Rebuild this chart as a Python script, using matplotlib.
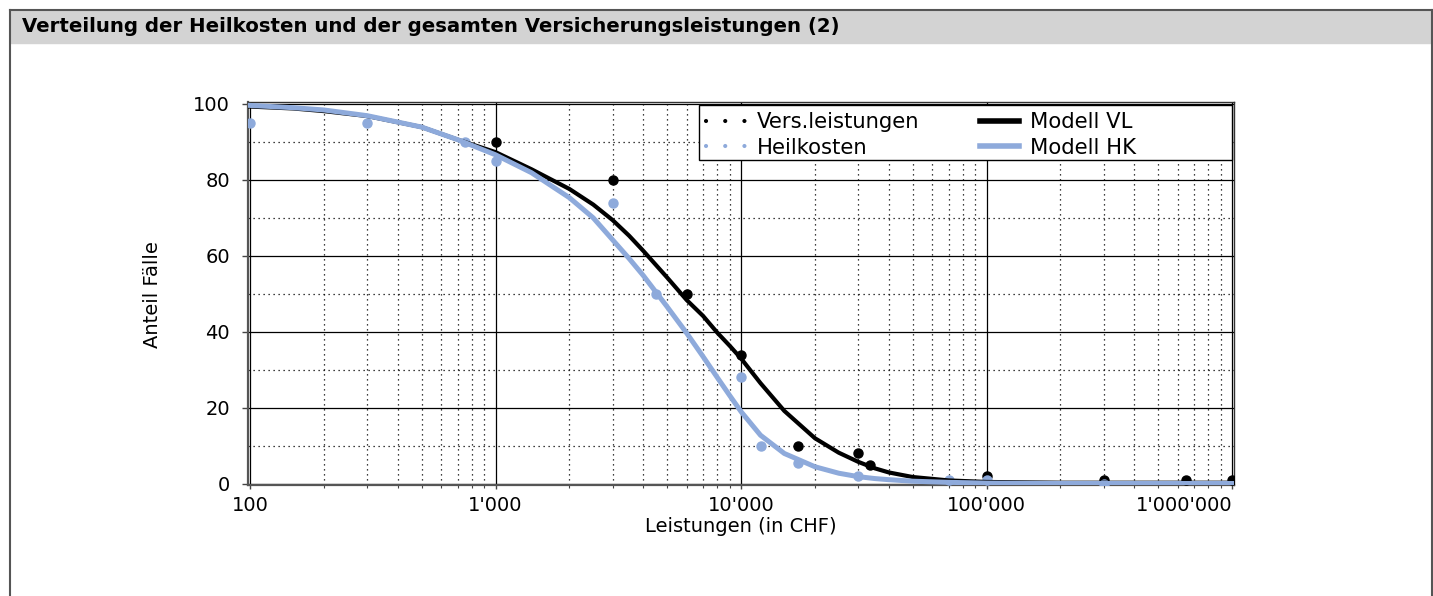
import numpy as np
import matplotlib
matplotlib.use("Agg")
import matplotlib.pyplot as plt
from matplotlib.lines import Line2D
from matplotlib.patches import Rectangle
from matplotlib.ticker import FixedLocator, NullFormatter

W, H = 1433, 596
BLUE = "#8eaadb"

# observed points
vl_x = [1000, 3000, 6000, 10000, 17000, 30000, 33500, 100000, 300000, 650000, 1000000]
vl_y = [90, 80, 50, 34, 10, 8, 5, 2, 1, 1, 1]
hk_x = [100, 300, 750, 1000, 3000, 4500, 10000, 12000, 17000, 30000, 70000, 100000, 300000]
hk_y = [95, 95, 90, 85, 74, 50, 28, 10, 5.5, 2, 1, 1, 0]

# model curves
model_x = [100, 150, 200, 300, 500, 700, 1000, 1400, 2000, 2500, 3000, 3500, 4000, 5000,
           6000, 7000, 8000, 9000, 10000, 12000, 15000, 20000, 25000, 30000, 35000, 40000,
           50000, 70000, 100000, 200000, 1000000]
vl_model = [99.3, 98.8, 98.1, 96.8, 93.9, 90.6, 87.3, 82.8, 77.6, 73.5, 69.4, 65.3, 61.3, 54.3,
            48.4, 44.2, 39.8, 36.3, 33.0, 26.5, 19.2, 12.0, 8.2, 5.8, 4.1, 3.0,
            1.8, 0.9, 0.5, 0.3, 0.3]
hk_model = [99.6, 99.0, 98.4, 96.9, 93.9, 90.6, 86.6, 81.9, 75.3, 70.0, 64.2, 59.3, 54.8, 46.6,
            39.7, 33.5, 28.0, 23.2, 19.0, 12.8, 8.0, 4.5, 2.8, 1.9, 1.4, 1.1,
            0.7, 0.4, 0.2, 0.1, 0.1]

x_ticks = [100, 1000, 10000, 100000, 1000000]
x_tick_labels = ["100", "1'000", "10'000", "100'000", "1'000'000"]
y_ticks = [0, 20, 40, 60, 80, 100]

title = "Verteilung der Heilkosten und der gesamten Versicherungsleistungen (2)"

fig = plt.figure(figsize=(W / 100, H / 100), dpi=100)

# panel frame + title band
fig.patches.append(Rectangle((10 / W, 1 - 43 / H), 1 - 10 / W, 33 / H,
                             transform=fig.transFigure, color="#d3d3d3", zorder=0))
fig.lines.append(Line2D([10 / W, 1], [1 - 10 / H, 1 - 10 / H], transform=fig.transFigure,
                        color="#555555", lw=1.5))
fig.lines.append(Line2D([10 / W, 10 / W], [0, 1 - 10 / H], transform=fig.transFigure,
                        color="#555555", lw=1.5))
fig.lines.append(Line2D([1 - 1 / W, 1 - 1 / W], [0, 1 - 10 / H], transform=fig.transFigure,
                        color="#555555", lw=1.5))
fig.text(22 / W, 1 - 27 / H, title, fontsize=14.2, fontweight="bold", va="center", ha="left")

ax = fig.add_axes([248 / W, 1 - 485 / H, 986 / W, 383 / H])
ax.set_xscale("log")

ax.plot(vl_x, vl_y, "o", color="black", ms=6.5, zorder=3)
ax.plot(hk_x, hk_y, "o", color=BLUE, ms=6.5, zorder=3)
ax.plot(model_x, vl_model, color="black", lw=3, zorder=4)
ax.plot(model_x, hk_model, color=BLUE, lw=3.6, zorder=5)

ax.set_xlim(98.1, 1.018e6)
ax.set_ylim(-0.3, 100.5)

ax.xaxis.set_major_locator(FixedLocator(x_ticks))
ax.set_xticklabels(x_tick_labels)
minor = [m * 10 ** e for e in range(2, 6) for m in range(2, 10)]
ax.xaxis.set_minor_locator(FixedLocator(minor))
ax.xaxis.set_minor_formatter(NullFormatter())
ax.set_yticks(y_ticks)
ax.yaxis.set_minor_locator(FixedLocator([10, 30, 50, 70, 90]))

ax.grid(which="major", color="black", lw=0.9, ls="-")
ax.grid(which="minor", color="black", lw=0.9, ls=(0, (1, 3)))
ax.set_axisbelow(True)

ax.tick_params(axis="x", which="major", length=3, width=1, pad=5, labelsize=14, color="#444444")
ax.tick_params(axis="x", which="minor", length=2.5, width=0.8, color="#444444")
ax.tick_params(axis="y", which="major", length=4, width=1, pad=9, labelsize=14, color="#444444")
ax.tick_params(axis="y", which="minor", length=0)
ax.get_xticklabels()[-1].set_ha("right")

for side in ["left", "bottom"]:
    ax.spines[side].set_color("#555555")
    ax.spines[side].set_linewidth(1.6)
for side in ["top", "right"]:
    ax.spines[side].set_color("#333333")
    ax.spines[side].set_linewidth(1.0)

fig.text(741 / W, 1 - 527 / H, "Leistungen (in CHF)", fontsize=14, ha="center", va="center")
fig.text(152 / W, 1 - 295 / H, "Anteil Fälle", fontsize=14, ha="center", va="center", rotation=90)

# legend: frame drawn separately, it is wider than its content
frame = Rectangle((699 / W, 1 - 160 / H), (1232 - 699) / W, 55 / H, transform=fig.transFigure,
                  facecolor="white", edgecolor="black", lw=1.0, zorder=6, clip_on=False)
ax.add_patch(frame)
handles = [
    Line2D([], [], color="black", ls=(0, (0.01, 4.6)), lw=3, dash_capstyle="round"),
    Line2D([], [], color=BLUE, ls=(0, (0.01, 4.6)), lw=3, dash_capstyle="round"),
    Line2D([], [], color="black", lw=4),
    Line2D([], [], color=BLUE, lw=4),
]
labels = ["Vers.leistungen", "Heilkosten", "Modell VL", "Modell HK"]
leg = ax.legend(handles, labels, loc="upper left", bbox_to_anchor=(699 / W, 1 - 105 / H),
                bbox_transform=fig.transFigure, ncol=2, prop={"size": 15.2}, frameon=False,
                borderaxespad=0, handlelength=1.85, columnspacing=2.9, labelspacing=0.25,
                borderpad=0.35, handletextpad=0.52)
leg.set_zorder(7)

fig.savefig("out.png", dpi=100)
